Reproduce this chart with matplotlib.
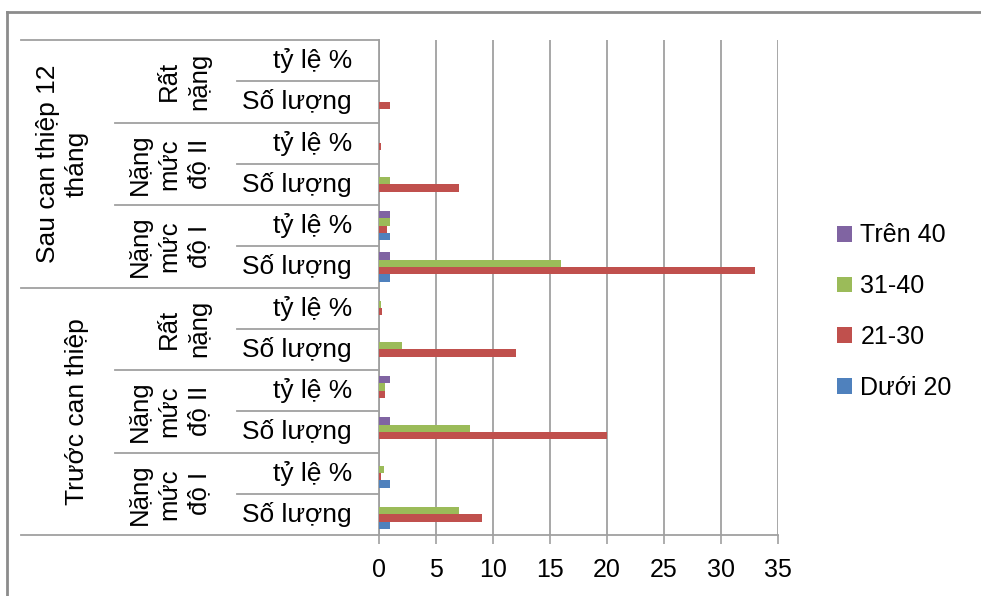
import matplotlib
matplotlib.use("Agg")
import matplotlib.pyplot as plt
from matplotlib import font_manager
from matplotlib.lines import Line2D
from matplotlib.patches import Patch
import matplotlib.transforms as mtransforms
import numpy as np

# ---------------- data ----------------
level1 = ["Trước can thiệp", "Sau can thiệp 12\ntháng"]
level2 = ["Nặng\nmức\nđộ I", "Nặng\nmức\nđộ II", "Rất\nnặng"]
level3 = ["Số lượng", "tỷ lệ %"]

series_names = ["Dưới 20", "21-30", "31-40", "Trên 40"]
series_colors = ["#4F81BD", "#C0504D", "#9BBB59", "#8064A2"]

# values bottom-to-top (12 categories)
duoi_20 = [1, 1, 0, 0, 0, 0, 1, 1, 0, 0, 0, 0]
tu_21_30 = [9, 0.15, 20, 0.5, 12, 0.25, 33, 0.7, 7, 0.15, 1, 0]
tu_31_40 = [7, 0.4, 8, 0.5, 2, 0.15, 16, 1, 1, 0, 0, 0]
tren_40 = [0, 0, 1, 1, 0, 0, 1, 1, 0, 0, 0, 0]
series_values = [duoi_20, tu_21_30, tu_31_40, tren_40]

x_ticks = [0, 5, 10, 15, 20, 25, 30, 35]

# ---------------- fonts ----------------
avail = {f.name for f in font_manager.fontManager.ttflist}
main_font = "Liberation Sans" if "Liberation Sans" in avail else "DejaVu Sans"
narrow_font = "Liberation Sans Narrow" if "Liberation Sans Narrow" in avail else main_font
plt.rcParams["font.family"] = [main_font, "DejaVu Sans"]

W, H = 981, 596
fig = plt.figure(figsize=(W / 100, H / 100), dpi=100)
fig.patch.set_facecolor("white")

ax_l, ax_r, ax_t, ax_b = 379, 778, 40, 535
ax = fig.add_axes([ax_l / W, 1 - ax_b / H, (ax_r - ax_l) / W, (ax_b - ax_t) / H])

n_cat = len(duoi_20)
y = np.arange(n_cat)
h = 0.178
offsets = [-1.5 * h, -0.5 * h, 0.5 * h, 1.5 * h]
for vals, col, off, name in zip(series_values, series_colors, offsets, series_names):
    ax.barh(y + off, vals, height=h, color=col, edgecolor="none", label=name, zorder=3)

ax.set_xlim(0, 35)
ax.set_ylim(-0.5, n_cat - 0.5)
ax.set_xticks(x_ticks)
ax.set_xticklabels([str(t) for t in x_ticks], fontsize=18, family=[narrow_font, "DejaVu Sans"])
ax.set_yticks([])
ax.tick_params(axis="x", direction="out", length=6.5, width=1.2, color="#a0a0a0", pad=10)
for s in ["top", "right", "bottom"]:
    ax.spines[s].set_visible(False)
ax.spines["left"].set_color("#a0a0a0")
ax.spines["left"].set_linewidth(1.3)
ax.grid(axis="x", color="#a0a0a0", linewidth=1.3, zorder=0)
ax.set_axisbelow(True)

gray = "#a0a0a0"
btf = mtransforms.blended_transform_factory(ax.transAxes, ax.transData)
px = lambda xp: (xp - ax_l) / (ax_r - ax_l)

# bottom axis line extending left under the label table, and top line
ax.add_line(Line2D([px(21), 1.0], [-0.5, -0.5], transform=btf, color=gray, lw=1.3, clip_on=False))
ax.add_line(Line2D([px(21), 0.0], [n_cat - 0.5, n_cat - 0.5], transform=btf, color=gray, lw=1.3, clip_on=False))

# separators
n3 = len(level3)
n2 = len(level2)
for i in range(1, n_cat):
    yb = i - 0.5
    if i % (n3 * n2) == 0:
        x0 = px(21)
    elif i % n3 == 0:
        x0 = px(115)
    else:
        x0 = px(237)
    ax.add_line(Line2D([x0, 0.0], [yb, yb], transform=btf, color=gray, lw=1.3, clip_on=False))

# level 3 labels
for i in range(n_cat):
    ax.text(px(352), i, level3[i % n3], transform=btf, ha="right", va="center", fontsize=19)

# level 2 labels
for j in range(len(level1) * n2):
    yc = j * n3 + (n3 - 1) / 2
    ax.text(px(211), yc, level2[j % n2], transform=btf, ha="right", va="center",
            rotation=90, fontsize=18.5, multialignment="center", linespacing=1.3)

# level 1 labels
for k, lab in enumerate(level1):
    yc = k * n3 * n2 + (n3 * n2 - 1) / 2
    ax.text(px(89), yc, lab, transform=btf, ha="right", va="center",
            rotation=90, fontsize=19, multialignment="center", linespacing=1.28)

# chart border (top and left)
fig.add_artist(Line2D([7 / W, 1.0], [1 - 12 / H, 1 - 12 / H], transform=fig.transFigure, color="#8c8c8c", lw=2))
fig.add_artist(Line2D([7 / W, 7 / W], [0, 1 - 12 / H], transform=fig.transFigure, color="#8c8c8c", lw=2))

# legend (reversed order)
handles = [Patch(facecolor=c, edgecolor="none") for c in series_colors][::-1]
labels = series_names[::-1]
fig.legend(handles, labels, loc="upper left", bbox_to_anchor=(824 / W, 1 - 211 / H),
           frameon=False, fontsize=18, handlelength=0.6, handleheight=0.6,
           handletextpad=0.35, labelspacing=1.07, borderpad=0)

fig.savefig("out.png", dpi=100, facecolor="white")
